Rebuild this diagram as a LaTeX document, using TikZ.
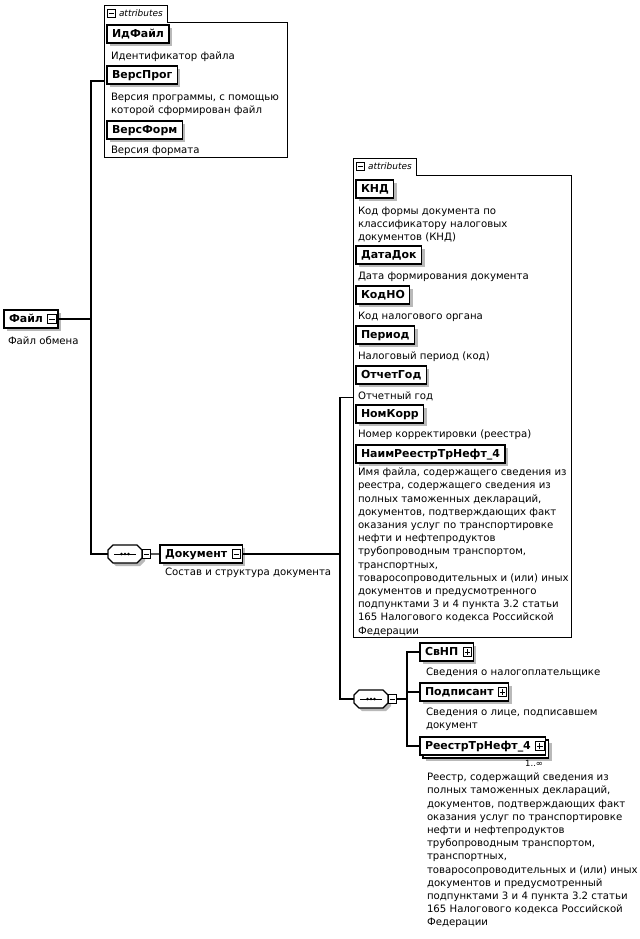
\documentclass[tikz,border=0pt]{standalone}
\usepackage{fontspec}
\setmainfont{DejaVu Sans}
\usetikzlibrary{calc,fit,shadows}

\newcommand{\desctext}{\fontsize{10.2}{13.25}\selectfont}
\newcommand{\elemtext}{\fontsize{11}{12}\selectfont\bfseries}
\newcommand{\tabtext}{\fontsize{9}{10}\selectfont\itshape}
\newcommand{\multtext}{\fontsize{8.5}{9}\selectfont}
\newcommand{\btnspace}{\hspace*{10bp}}
% sequence compositor drawn round an empty node
\newcommand{\seqshape}[1]{%
    \draw[seqframe] ([yshift=4bp]#1.west) -- ([xshift=5bp]#1.north west)
        -- ([xshift=-5bp]#1.north east) -- ([yshift=4bp]#1.east)
        -- ([yshift=-4bp]#1.east) -- ([xshift=-5bp]#1.south east)
        -- ([xshift=5bp]#1.south west) -- ([yshift=-4bp]#1.west) -- cycle;
    \draw[line width=0.8bp] ([xshift=6bp]#1.west) -- ([xshift=-6bp]#1.east);
    \foreach \dx in {-3.6bp,0bp,3.6bp}
        \fill ([xshift=\dx]#1.center) circle (1.4bp);}

\begin{document}
\begin{tikzpicture}[x=1bp, y=-1bp, inner sep=0pt, outer sep=0pt,
    conn/.style={line width=1.1bp},
    frame/.style={line width=0.9bp},
    elembase/.style={draw, line width=1.2bp, fill=white, anchor=north west,
        font=\elemtext, inner xsep=5bp, minimum height=18bp,
        text height=8.5bp, text depth=2.5bp},
    elem/.style={elembase, drop shadow={shadow xshift=3bp, shadow yshift=-3bp, opacity=.55}},
    elemmulti/.style={elembase, drop shadow={shadow xshift=6bp, shadow yshift=-6bp, opacity=.55},
        copy shadow={shadow xshift=3bp, shadow yshift=-3bp}},
    desc/.style={anchor=north west, align=left, font=\desctext},
    tab/.style={anchor=north west, minimum height=17bp, font=\tabtext,
        text height=7bp, text depth=2bp},
    btn/.style={draw, fill=white, line width=0.8bp, minimum size=8.5bp},
    btnminus/.style={btn, path picture={\draw[line width=0.8bp]
        ([xshift=1.6bp]path picture bounding box.west) -- ([xshift=-1.6bp]path picture bounding box.east);}},
    btnplus/.style={btn, path picture={\draw[line width=0.8bp]
        ([xshift=1.6bp]path picture bounding box.west) -- ([xshift=-1.6bp]path picture bounding box.east)
        ([yshift=1.6bp]path picture bounding box.south) -- ([yshift=-1.6bp]path picture bounding box.north);}},
    seq/.style={minimum width=34bp, minimum height=18bp},
    seqframe/.style={line width=1.1bp, fill=white,
        drop shadow={shadow xshift=3bp, shadow yshift=-3bp, opacity=.55}}]

    \useasboundingbox (0,0) rectangle (640,939);

    % file root
    \node[elem] (file) at (4,310) {Файл\btnspace};
    \node[btnminus] (file_btn) at ([xshift=-6bp]file.east) {};
    \node[desc] (file_cap) at (8,337) {Файл обмена};

    % file attributes
    \node[tab] (attr_top_tab) at (104,5) {\hspace*{15bp}attributes\hspace*{5bp}};
    \node[btnminus] (attr_top_tab_btn) at ([xshift=7.5bp]attr_top_tab.west) {};
    \coordinate (attr_top_se) at (287,157);
    \node[fit=(attr_top_tab.north west)(attr_top_se)] (attr_top) {};
    \draw[frame] (attr_top_tab.north east) |- (attr_top.east |- attr_top_tab.south)
        |- (attr_top.south west) -- (attr_top_tab.north west) -- cycle;

    \node[elem] (idfile) at (107,25) {ИдФайл};
    \node[desc] (idfile_cap) at (111,52) {Идентификатор файла};
    \node[elem] (versprog) at (107,66) {ВерсПрог};
    \node[desc] (versprog_cap) at (111,93) {Версия программы, с помощью\\которой сформирован файл};
    \node[elem] (versform) at (107,121) {ВерсФорм};
    \node[desc] (versform_cap) at (111,146) {Версия формата};

    % document
    \node[seq] (seq_doc) at (125,554) {};
    \seqshape{seq_doc}
    \node[btnminus, anchor=west] (seq_doc_btn) at (seq_doc.east) {};
    \node[elem] (doc) at (160,545) {Документ\btnspace};
    \node[btnminus] (doc_btn) at ([xshift=-6bp]doc.east) {};
    \node[desc] (doc_cap) at (165,568) {Состав и структура документа};

    \coordinate (file_fork) at ($(file.east -| attr_top.west)+(-13,0)$);
    \draw[conn] (file.east) -- (file_fork);
    \draw[conn] (attr_top.west) -| (file_fork) |- (seq_doc.west);
    \draw[conn] (seq_doc_btn.east) -- (doc.west);

    % document attributes
    \node[tab] (attr_doc_tab) at (353,158) {\hspace*{15bp}attributes\hspace*{5bp}};
    \node[btnminus] (attr_doc_tab_btn) at ([xshift=7.5bp]attr_doc_tab.west) {};
    \coordinate (attr_doc_se) at (571,637);
    \node[fit=(attr_doc_tab.north west)(attr_doc_se)] (attr_doc) {};
    \draw[frame] (attr_doc_tab.north east) |- (attr_doc.east |- attr_doc_tab.south)
        |- (attr_doc.south west) -- (attr_doc_tab.north west) -- cycle;

    \node[elem] (knd) at (356,180) {КНД};
    \node[desc] (knd_cap) at (358,207) {Код формы документа по\\классификатору налоговых\\документов (КНД)};
    \node[elem] (datadok) at (356,246) {ДатаДок};
    \node[desc] (datadok_cap) at (358,272) {Дата формирования документа};
    \node[elem] (kodno) at (356,286) {КодНО};
    \node[desc] (kodno_cap) at (358,312) {Код налогового органа};
    \node[elem] (period) at (356,326) {Период};
    \node[desc] (period_cap) at (358,352) {Налоговый период (код)};
    \node[elem] (otchgod) at (356,366) {ОтчетГод};
    \node[desc] (otchgod_cap) at (358,392) {Отчетный год};
    \node[elem] (nomkorr) at (356,405) {НомКорр};
    \node[desc] (nomkorr_cap) at (358,430) {Номер корректировки (реестра)};
    \node[elem] (naim) at (356,445) {НаимРеестрТрНефт\_4};
    \node[desc] (naim_cap) at (358,468) {Имя файла, содержащего сведения из\\
        реестра, содержащего сведения из\\полных таможенных деклараций,\\
        документов, подтверждающих факт\\оказания услуг по транспортировке\\
        нефти и нефтепродуктов\\трубопроводным транспортом,\\транспортных,\\
        товаросопроводительных и (или) иных\\документов и предусмотренного\\
        подпунктами 3 и 4 пункта 3.2 статьи\\165 Налогового кодекса Российской\\Федерации};

    % document content
    \node[seq] (seq_sub) at (371,699) {};
    \seqshape{seq_sub}
    \node[btnminus, anchor=west] (seq_sub_btn) at (seq_sub.east) {};
    \node[elem] (svnp) at (420,643) {СвНП\btnspace};
    \node[btnplus] (svnp_btn) at ([xshift=-6bp]svnp.east) {};
    \node[desc] (svnp_cap) at (426,668) {Сведения о налогоплательщике};
    \node[elem] (podp) at (420,683) {Подписант\btnspace};
    \node[btnplus] (podp_btn) at ([xshift=-6bp]podp.east) {};
    \node[desc] (podp_cap) at (426,708) {Сведения о лице, подписавшем\\документ};
    \node[elemmulti] (reestr) at (420,737) {РеестрТрНефт\_4\btnspace};
    \node[btnplus] (reestr_btn) at ([xshift=-6bp]reestr.east) {};
    \node[anchor=north east, font=\multtext] (reestr_mult) at (543,760) {1..∞};
    \node[desc] (reestr_cap) at (427,773) {Реестр, содержащий сведения из\\
        полных таможенных деклараций,\\документов, подтверждающих факт\\
        оказания услуг по транспортировке\\нефти и нефтепродуктов\\
        трубопроводным транспортом,\\транспортных,\\
        товаросопроводительных и (или) иных\\документов и предусмотренный\\
        подпунктами 3 и 4 пункта 3.2 статьи\\165 Налогового кодекса Российской\\Федерации};

    \coordinate (doc_fork) at ($(doc.east -| attr_doc.west)+(-13,0)$);
    \draw[conn] (doc.east) -- (doc_fork);
    \draw[conn] (attr_doc.west) -| (doc_fork) |- (seq_sub.west);
    \coordinate (sub_fork) at ($(seq_sub_btn.east -| svnp.west)+(-13,0)$);
    \draw[conn] (seq_sub_btn.east) -- (sub_fork);
    \draw[conn] (svnp.west) -| (sub_fork) |- (reestr.west);
    \draw[conn] (podp.west) -- (podp.west -| sub_fork);

\end{tikzpicture}
\end{document}
